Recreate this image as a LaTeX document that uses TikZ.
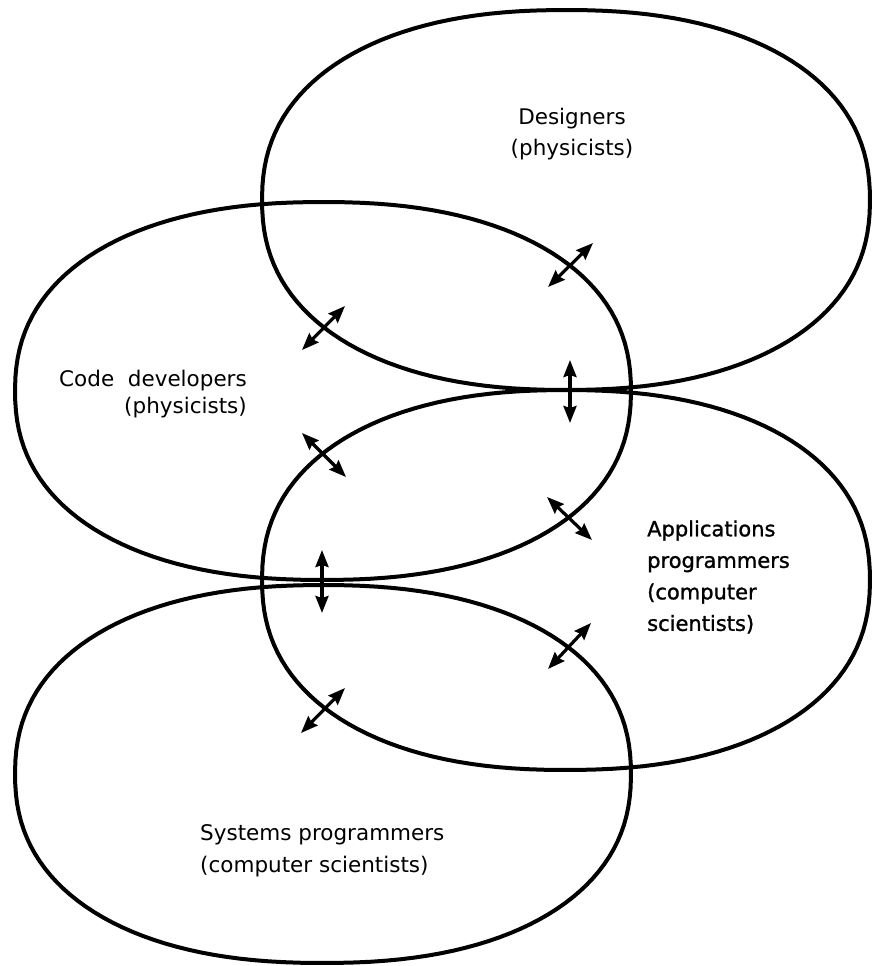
\documentclass[tikz,border=0pt]{standalone}
\usepackage{fontspec}
\setmainfont{DejaVu Sans}
\newfontfamily\heavier[FakeBold=1.2]{DejaVu Sans}
\usetikzlibrary{arrows.meta}

\begin{document}
\begin{tikzpicture}[x = 1pt, y = -1pt,
  group/.style = {line width = 4pt},
  link/.style = {{Stealth[length=17pt, width=13pt, inset=2pt]}-{Stealth[length=17pt, width=13pt, inset=2pt]}, line width = 3.2pt},
  role/.style = {inner sep = 0pt, font = \fontsize{21.5}{31}\selectfont}]
\useasboundingbox (0, 0) rectangle (872, 966);
%\draw[very thin, color = gray](0, 0) grid[step = 50] (872, 966);
% the four groups, drawn as rounded boxes
\draw[group] plot[domain = 0.5:360.5, samples = 145]
  ({566 + 304*cos(\x)/abs(cos(\x))^0.12}, {200 + 190*sin(\x)/abs(sin(\x))^0.12}) -- cycle;
\draw[group] plot[domain = 0.5:360.5, samples = 145]
  ({323 + 308*cos(\x)/abs(cos(\x))^0.12}, {391 + 189*sin(\x)/abs(sin(\x))^0.12}) -- cycle;
\draw[group] plot[domain = 0.5:360.5, samples = 145]
  ({566 + 304*cos(\x)/abs(cos(\x))^0.12}, {580 + 190*sin(\x)/abs(sin(\x))^0.12}) -- cycle;
\draw[group] plot[domain = 0.5:360.5, samples = 145]
  ({323 + 308*cos(\x)/abs(cos(\x))^0.12}, {774 + 189*sin(\x)/abs(sin(\x))^0.12}) -- cycle;
% who sits in each group
\node[role, align = center] (designers) at (572, 134) {Designers\\(physicists)};
\node[role, align = right, anchor = east, font = \fontsize{21.5}{27}\selectfont] (coders) at (247, 394) {Code\ \ developers\\(physicists)};
\node[role, align = left, anchor = west, font = \heavier\fontsize{21}{31.5}\selectfont] (appl) at (647, 577) {Applications\\programmers\\(computer\\scientists)};
\node[role, align = left, anchor = west, font = \fontsize{21.5}{32}\selectfont] (sysprog) at (200, 851) {Systems programmers\\(computer scientists)};
% exchange between the groups
\coordinate (x1a) at (548, 287);
\coordinate (x1b) at (593, 243);
\coordinate (x2a) at (302, 350);
\coordinate (x2b) at (345, 306);
\coordinate (x3a) at (570, 360);
\coordinate (x3b) at (570, 423);
\coordinate (x4a) at (302, 433);
\coordinate (x4b) at (346, 477);
\coordinate (x5a) at (547, 497);
\coordinate (x5b) at (592, 540);
\coordinate (x6a) at (322, 550);
\coordinate (x6b) at (322, 613);
\coordinate (x7a) at (548, 669);
\coordinate (x7b) at (591, 623);
\coordinate (x8a) at (301, 733);
\coordinate (x8b) at (345, 688);
\draw[link] (x1a) -- (x1b);
\draw[link] (x2a) -- (x2b);
\draw[link] (x3a) -- (x3b);
\draw[link] (x4a) -- (x4b);
\draw[link] (x5a) -- (x5b);
\draw[link] (x6a) -- (x6b);
\draw[link] (x7a) -- (x7b);
\draw[link] (x8a) -- (x8b);
\end{tikzpicture}
\end{document}
